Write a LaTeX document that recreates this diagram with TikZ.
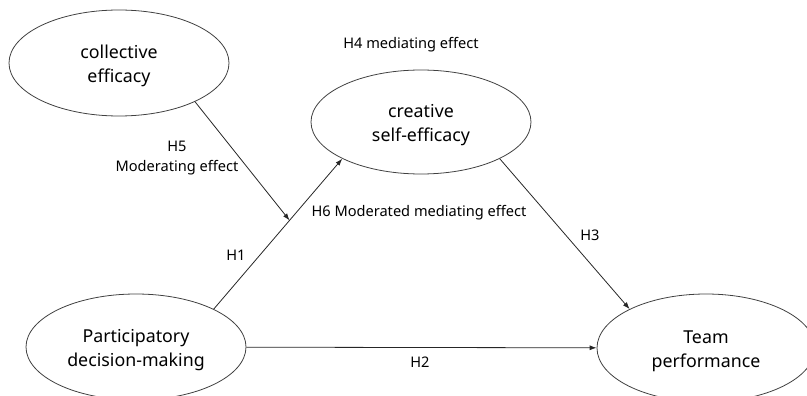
\documentclass[tikz,border=0pt]{standalone}
\usepackage{fontspec}
\setmainfont{Noto Sans}
\usetikzlibrary{shapes.geometric,arrows.meta,calc}
\begin{document}
\begin{tikzpicture}[x=1pt,y=-1pt,
 ell/.style={draw=black!75, line width=0.8pt, ellipse, minimum width=220pt, minimum height=106pt, inner sep=0pt},
 etxt/.style={font=\fontsize{17.8}{24}\selectfont, inner sep=0pt, align=center},
 lbl/.style={font=\fontsize{14.6}{19.5}\selectfont, inner sep=0pt, align=center},
 arr/.style={draw=black!85, line width=0.8pt, -{Latex[length=7pt,width=5pt]}}]
\useasboundingbox (0,0) rectangle (807,396);
\node[ell] (ce) at (119,63) {};
\node[ell, minimum height=104pt] (cs) at (421,122) {};
\node[ell] (pd) at (136,347) {};
\node[ell, minimum width=218pt, minimum height=108pt] (tp) at (706,348) {};
\node[etxt] (cet) at ([yshift=-3pt]ce.center) {collective\\efficacy};
\node[etxt] (cst) at ([yshift=-3pt]cs.center) {creative\\self-efficacy};
\node[etxt] (pdt) at ([yshift=-3pt]pd.center) {Participatory\\decision-making};
\node[etxt] (tpt) at ([yshift=-3pt]tp.center) {Team\\performance};
\draw[arr] (pd.26) -- (cs.205);
\coordinate (j) at ($(pd.26)!0.59!(cs.205)$);
\draw[arr] (ce.-27) -- (j);
\draw[arr] (cs.-25) -- (tp.153);
\draw[arr] (pd) -- (tp);
\node[lbl] (h4) at (411,45) {H4 mediating effect};
\node[lbl] (h5) at (177,158) {H5\\Moderating effect};
\node[lbl] (h6) at (419,213) {H6 Moderated mediating effect};
\node[lbl] (h1) at (236,255) {H1};
\node[lbl] (h3) at (590,235) {H3};
\node[lbl] (h2) at (420,362) {H2};
\end{tikzpicture}
\end{document}
